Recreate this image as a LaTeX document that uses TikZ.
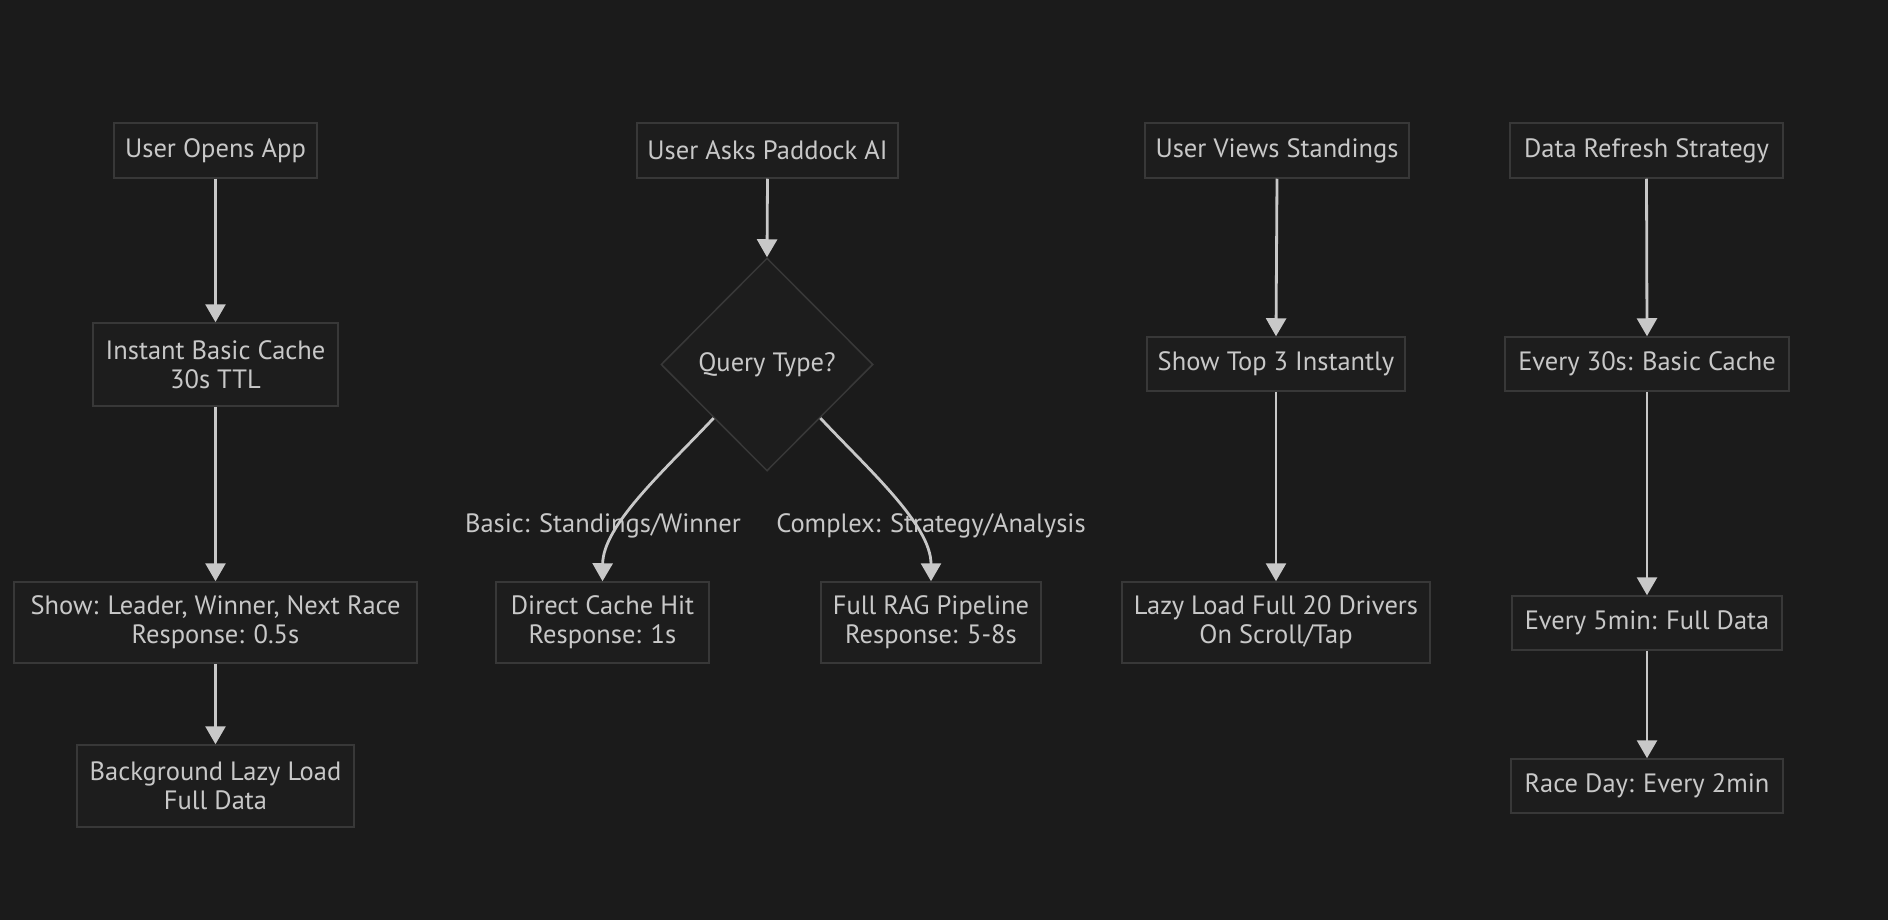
\documentclass[tikz,border=0pt]{standalone}
\usepackage{fontspec}
\setmainfont{PT Sans}
\usetikzlibrary{arrows.meta,shapes.geometric}
\definecolor{bgc}{HTML}{1B1B1B}
\definecolor{boxfill}{HTML}{1D1D1D}
\definecolor{boxline}{HTML}{383838}
\definecolor{txt}{HTML}{C8C8C8}
\definecolor{arr}{HTML}{C8C8C8}
\tikzset{
  box/.style={draw=boxline, fill=boxfill, line width=1.5pt, text=txt, align=center,
    font=\fontsize{26.5}{29}\selectfont, inner sep=0pt},
  dia/.style={diamond, draw=boxline, fill=boxfill, line width=1.5pt, text=txt,
    font=\fontsize{26.5}{29}\selectfont, inner sep=0pt, minimum width=212pt, minimum height=213pt},
  lbl/.style={text=txt, font=\fontsize{26.5}{29}\selectfont, inner sep=0pt},
  conn/.style={draw=arr, line width=2.8pt, -{Triangle[width=20pt,length=18pt]}}
}
\begin{document}
\begin{tikzpicture}[x=1pt,y=-1pt]
\fill[bgc] (0,0) rectangle (1888,920);
\useasboundingbox (0,0) rectangle (1888,920);
% column 1
\node[box, minimum width=203pt, minimum height=55pt] (A) at (215.5,150.5) {User Opens App};
\node[box, minimum width=245pt, minimum height=83pt] (B) at (215.5,364.5) {Instant Basic Cache\\30s TTL};
\node[box, minimum width=403pt, minimum height=81pt] (C) at (215.5,622.5) {Show: Leader, Winner, Next Race\\Response: 0.5s};
\node[box, minimum width=277pt, minimum height=82pt] (D) at (215.5,786) {Background Lazy Load\\Full Data};
% column 2
\node[box, minimum width=261pt, minimum height=55pt] (E) at (767.5,150.5) {User Asks Paddock AI};
\node[dia] (F) at (767,364.5) {Query Type?};
\node[box, minimum width=213pt, minimum height=81pt] (G) at (602.5,622.5) {Direct Cache Hit\\Response: 1s};
\node[box, minimum width=220pt, minimum height=81pt] (H) at (931,622.5) {Full RAG Pipeline\\Response: 5-8s};
% column 3
\node[box, minimum width=264pt, minimum height=55pt] (I) at (1277,150.5) {User Views Standings};
\node[box, minimum width=258pt, minimum height=54pt] (J) at (1276,364) {Show Top 3 Instantly};
\node[box, minimum width=308pt, minimum height=81pt] (K) at (1276,622.5) {Lazy Load Full 20 Drivers\\On Scroll/Tap};
% column 4
\node[box, minimum width=273pt, minimum height=55pt] (L) at (1646.5,150.5) {Data Refresh Strategy};
\node[box, minimum width=284pt, minimum height=54pt] (M) at (1647,364) {Every 30s: Basic Cache};
\node[box, minimum width=270pt, minimum height=54pt] (N) at (1647,623) {Every 5min: Full Data};
\node[box, minimum width=272pt, minimum height=54pt] (O) at (1647,786) {Race Day: Every 2min};
% connectors
\draw[conn] (A.south) -- (B.north);
\draw[conn] (B.south) -- (C.north);
\draw[conn] (C.south) -- (D.north);
\draw[conn] (E.south) -- (F.north);
\draw[conn] (F.south west) .. controls (665,470) and (603,525) .. (G.north);
\draw[conn] (F.south east) .. controls (869,470) and (931,525) .. (H.north);
\draw[conn] (I.south) -- (J.north);
\draw[conn] (J.south) -- (K.north);
\draw[conn] (L.south) -- (M.north);
\draw[conn] (M.south) -- (N.north);
\draw[conn] (N.south) -- (O.north);
% edge labels
\node[lbl] (lg) at (603,526) {Basic: Standings/Winner};
\node[lbl] (lh) at (931,526) {Complex: Strategy/Analysis};
\end{tikzpicture}
\end{document}
